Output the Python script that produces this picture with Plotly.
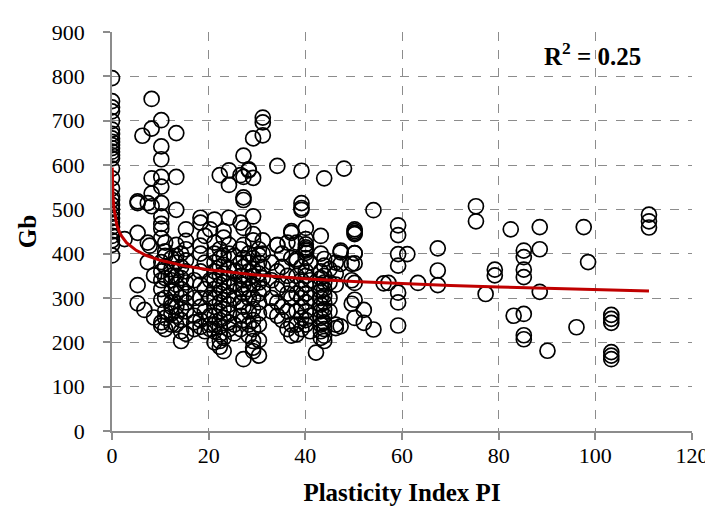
import plotly.graph_objects as go

# ---- data ----
groups = [
    (0.0, [796, 744, 730, 721, 699, 680, 670, 660, 652, 645, 638, 630, 622, 615, 592, 570,
           547, 529, 521, 510, 500, 490, 480, 470, 460, 450, 440, 430, 420, 396]),
    (2.6, [433]),
    (5.3, [518, 514, 447, 329, 288]),
    (6.3, [666]),
    (6.7, [273]),
    (7.4, [425, 514, 381]),
    (7.8, [418]),
    (8.2, [749, 682, 570, 536, 507]),
    (8.7, [351, 256]),
    (10.2, [701, 642, 613, 573, 551, 514, 484, 467, 456, 435, 381, 360, 340, 320, 296, 237, 245]),
    (11.0, [425, 405, 395, 370, 345, 300, 270, 255, 230]),
    (12.3, [390, 365, 350, 340, 315, 290, 280, 265, 240]),
    (13.3, [672, 573, 499, 420, 395, 380, 350, 330, 310, 280, 260, 240]),
    (14.3, [400, 370, 345, 320, 300, 275, 250, 225, 203]),
    (15.3, [455, 429, 410, 385, 360, 335, 310, 290, 270, 219]),
    (17.0, [340, 300, 260, 245, 230]),
    (18.3, [481, 470, 418, 400, 360, 330, 300, 280, 250, 235]),
    (19.2, [440, 380, 320, 270, 225]),
    (20.3, [455, 340, 300, 260, 240, 230]),
    (21.2, [477, 425, 400, 380, 360, 340, 320, 300, 280, 260, 240, 225, 200]),
    (22.3, [577, 410, 390, 370, 350, 330, 310, 290, 270, 250, 235, 218, 203, 190]),
    (23.1, [451, 436, 395, 375, 355, 335, 315, 295, 275, 255, 210, 180]),
    (24.2, [588, 555, 481, 420, 400, 365, 345, 325, 305, 285, 265, 245, 230]),
    (25.3, [395, 360, 330, 300, 240, 220]),
    (26.6, [577, 470, 410, 380, 350, 320, 290, 260, 230]),
    (27.2, [621, 573, 527, 521, 458, 420, 390, 370, 340, 330, 310, 280, 250, 162]),
    (28.3, [590, 588, 400, 380, 360, 345, 320, 300, 270, 240, 215]),
    (29.2, [660, 571, 484, 444, 430, 390, 365, 350, 330, 300, 275, 250, 230, 203, 188, 180]),
    (30.4, [410, 396, 380, 355, 335, 310, 290, 265, 240, 205, 170]),
    (31.2, [707, 696, 667, 430, 400, 370, 345, 320]),
    (33.0, [380, 340, 300, 270]),
    (34.2, [598, 420, 419, 360, 320, 290, 260]),
    (35.2, [400, 370, 330, 280, 250]),
    (36.3, [425, 350, 310, 270, 230]),
    (37.1, [451, 447, 390, 330, 300, 240, 215]),
    (38.2, [425, 388, 384, 350, 310, 270, 240, 218]),
    (39.2, [587, 514, 503, 499, 370, 340, 320, 300, 280, 255, 230]),
    (40.1, [458, 433, 421, 414, 410, 407, 402, 390, 360, 350, 330, 310, 290, 270, 250, 240]),
    (41.0, [380, 340, 300, 260, 225]),
    (42.2, [177]),
    (43.2, [440, 400, 360, 345, 330, 315, 300, 285, 270, 255, 240, 225, 210]),
    (43.9, [570, 388, 373, 350, 335, 320, 305, 290, 275, 260, 245, 230, 215, 203]),
    (45.0, [365, 335, 300, 270]),
    (46.3, [380, 355, 330, 240, 232]),
    (47.3, [407, 403, 377, 236]),
    (48.0, [592]),
    (49.6, [377, 340, 287]),
    (50.2, [455, 451, 447, 444, 401, 401, 378, 334, 296, 255]),
    (52.1, [273, 244]),
    (54.1, [498, 229]),
    (56.2, [333]),
    (57.2, [334]),
    (59.2, [464, 442, 399, 373, 312, 290, 238]),
    (61.1, [399]),
    (63.3, [334]),
    (67.4, [412, 362, 329]),
    (75.3, [507, 473]),
    (77.3, [309]),
    (79.2, [364, 351]),
    (82.5, [455]),
    (83.1, [260]),
    (85.2, [407, 392, 364, 347, 264, 216, 207]),
    (88.5, [460, 410, 314]),
    (90.1, [181]),
    (96.1, [234]),
    (97.6, [460]),
    (98.5, [381]),
    (103.3, [262, 253, 244, 178, 170, 162]),
    (111.1, [488, 473, 459]),
]

pi_values = [x for x, ys in groups for _ in ys]
gb_values = [y for _, ys in groups for y in ys]

# power trendline Gb = a * PI^b
fit_a = 465.0
fit_b = -0.082
fit_x = [0.05, 0.1, 0.2, 0.4, 0.7, 1, 1.5, 2, 3, 5, 7, 10, 15, 20, 30, 40, 50, 60,
         70, 80, 90, 100, 111.1]
fit_y = [fit_a * x ** fit_b for x in fit_x]

x_ticks = [0, 20, 40, 60, 80, 100, 120]
y_ticks = [0, 100, 200, 300, 400, 500, 600, 700, 800, 900]
r2_text = "R<sup>2</sup> = 0.25"

FONT = "Liberation Serif, Times New Roman, serif"

fig = go.Figure()
fig.add_trace(go.Scatter(
    x=pi_values, y=gb_values, mode="markers",
    marker=dict(symbol="circle-open", size=15, color="black", line=dict(width=1.7, color="black")),
    showlegend=False, hoverinfo="x+y"))
fig.add_trace(go.Scatter(
    x=fit_x, y=fit_y, mode="lines",
    line=dict(color="#C00000", width=3),
    showlegend=False))

axis_common = dict(
    showgrid=True, gridcolor="#8c8c8c", gridwidth=1.3, griddash="dash",
    showline=True, linecolor="#8c8c8c", linewidth=1.5,
    ticks="outside", ticklen=7, tickcolor="#8c8c8c", tickwidth=1.5,
    zeroline=False,
    tickfont=dict(family=FONT, size=22, color="black"),
)

fig.update_xaxes(range=[0, 120], tickvals=x_ticks, **axis_common,
                 ticklabelstandoff=-3,
                 title=dict(text="<b>Plasticity Index PI</b>", font=dict(family=FONT, size=25, color="black"),
                            standoff=16))
fig.update_yaxes(range=[0, 900], tickvals=y_ticks, **axis_common,
                 ticklabelstandoff=14,
                 title=dict(text="<b>Gb</b>", font=dict(family=FONT, size=25, color="black"),
                            standoff=8))

fig.add_annotation(text="<b>" + r2_text + "</b>", xref="paper", yref="paper",
                   x=0.828, y=0.944, xanchor="center", yanchor="middle", showarrow=False,
                   font=dict(family=FONT, size=25, color="black"))

fig.update_layout(
    width=713, height=508,
    margin=dict(l=104, r=23, t=18, b=85),
    paper_bgcolor="white", plot_bgcolor="white",
)

fig.write_html("out.html")
